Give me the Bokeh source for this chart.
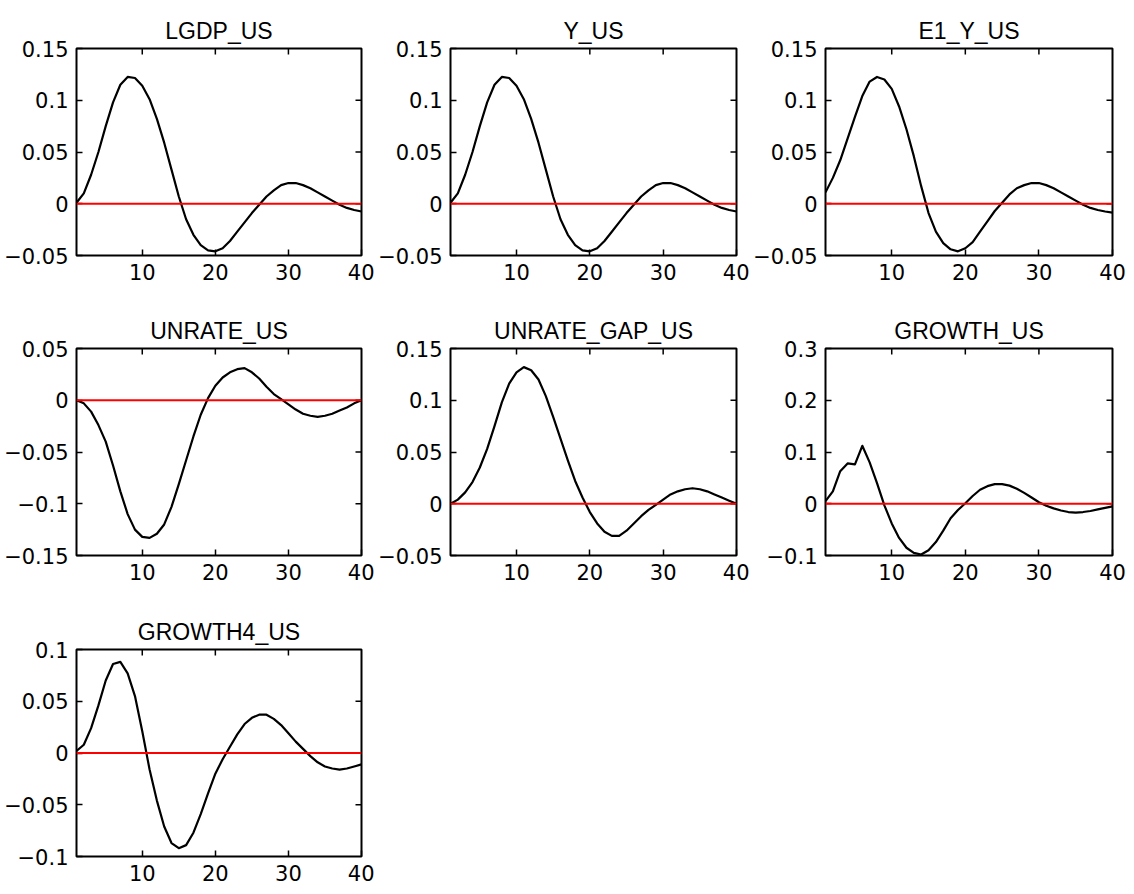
import math

from bokeh.embed import file_html
from bokeh.layouts import column, row
from bokeh.models import FixedTicker, Range1d, Span
from bokeh.plotting import figure
from bokeh.resources import INLINE

# Impulse responses over a 40-quarter horizon
PERIODS = list(range(1, 41))

LGDP_US = [0.001, 0.010, 0.028, 0.050, 0.075, 0.098, 0.115, 0.1225, 0.1215, 0.114,
           0.101, 0.082, 0.059, 0.033, 0.007, -0.015, -0.030, -0.040, -0.045, -0.046,
           -0.043, -0.036, -0.027, -0.018, -0.009, -0.001, 0.007, 0.013, 0.018, 0.020,
           0.020, 0.018, 0.015, 0.011, 0.007, 0.003, -0.001, -0.004, -0.006, -0.0075]

Y_US = [0.001, 0.010, 0.028, 0.050, 0.075, 0.098, 0.115, 0.1225, 0.1215, 0.114,
        0.101, 0.082, 0.059, 0.033, 0.007, -0.015, -0.030, -0.040, -0.045, -0.046,
        -0.043, -0.036, -0.027, -0.018, -0.009, -0.001, 0.007, 0.013, 0.018, 0.020,
        0.020, 0.018, 0.015, 0.011, 0.007, 0.003, -0.001, -0.004, -0.006, -0.0075]

E1_Y_US = [0.011, 0.025, 0.042, 0.063, 0.084, 0.104, 0.118, 0.1225, 0.120, 0.111,
           0.094, 0.072, 0.046, 0.017, -0.009, -0.027, -0.038, -0.044, -0.046, -0.043,
           -0.037, -0.027, -0.017, -0.007, 0.001, 0.009, 0.015, 0.018, 0.020, 0.020,
           0.018, 0.015, 0.011, 0.007, 0.003, -0.001, -0.004, -0.006, -0.0075, -0.0085]

UNRATE_US = [0.000, -0.003, -0.011, -0.024, -0.040, -0.063, -0.088, -0.110, -0.125, -0.132,
             -0.133, -0.129, -0.120, -0.103, -0.081, -0.058, -0.035, -0.014, 0.002, 0.014,
             0.022, 0.027, 0.030, 0.031, 0.027, 0.021, 0.013, 0.006, 0.001, -0.004,
             -0.009, -0.013, -0.015, -0.016, -0.015, -0.013, -0.010, -0.007, -0.003, 0.000]

UNRATE_GAP_US = [0.000, 0.004, 0.011, 0.021, 0.035, 0.053, 0.075, 0.098, 0.116, 0.127,
                 0.132, 0.129, 0.120, 0.104, 0.084, 0.063, 0.042, 0.022, 0.006, -0.008,
                 -0.019, -0.027, -0.031, -0.031, -0.026, -0.019, -0.012, -0.006, -0.001, 0.004,
                 0.009, 0.012, 0.014, 0.015, 0.014, 0.012, 0.009, 0.006, 0.003, 0.000]

GROWTH_US = [0.005, 0.024, 0.063, 0.078, 0.076, 0.112, 0.080, 0.040, -0.003, -0.038,
             -0.066, -0.085, -0.095, -0.098, -0.090, -0.074, -0.052, -0.028, -0.012, 0.001,
             0.015, 0.027, 0.034, 0.038, 0.038, 0.035, 0.029, 0.021, 0.012, 0.003,
             -0.004, -0.009, -0.013, -0.016, -0.017, -0.016, -0.014, -0.011, -0.008, -0.005]

GROWTH4_US = [0.002, 0.008, 0.024, 0.046, 0.070, 0.086, 0.088, 0.077, 0.055, 0.021,
              -0.016, -0.046, -0.071, -0.087, -0.092, -0.089, -0.077, -0.059, -0.039, -0.020,
              -0.006, 0.006, 0.018, 0.028, 0.034, 0.037, 0.037, 0.033, 0.027, 0.019,
              0.011, 0.004, -0.003, -0.009, -0.013, -0.015, -0.016, -0.015, -0.013, -0.011]

X_TICKS = [10, 20, 30, 40]
X_TICK_LABELS = ["10", "20", "30", "40"]

TICKS_OUTPUT = [-0.05, 0, 0.05, 0.1, 0.15]
LABELS_OUTPUT = ["\u22120.05", "0", "0.05", "0.1", "0.15"]
TICKS_UNRATE = [-0.15, -0.1, -0.05, 0, 0.05]
LABELS_UNRATE = ["\u22120.15", "\u22120.1", "\u22120.05", "0", "0.05"]
TICKS_GROWTH = [-0.1, 0, 0.1, 0.2, 0.3]
LABELS_GROWTH = ["\u22120.1", "0", "0.1", "0.2", "0.3"]
TICKS_GROWTH4 = [-0.1, -0.05, 0, 0.05, 0.1]
LABELS_GROWTH4 = ["\u22120.1", "\u22120.05", "0", "0.05", "0.1"]

PANELS = [
    ("LGDP_US", LGDP_US, TICKS_OUTPUT, LABELS_OUTPUT),
    ("Y_US", Y_US, TICKS_OUTPUT, LABELS_OUTPUT),
    ("E1_Y_US", E1_Y_US, TICKS_OUTPUT, LABELS_OUTPUT),
    ("UNRATE_US", UNRATE_US, TICKS_UNRATE, LABELS_UNRATE),
    ("UNRATE_GAP_US", UNRATE_GAP_US, TICKS_OUTPUT, LABELS_OUTPUT),
    ("GROWTH_US", GROWTH_US, TICKS_GROWTH, LABELS_GROWTH),
    ("GROWTH4_US", GROWTH4_US, TICKS_GROWTH4, LABELS_GROWTH4),
]

# grid geometry: per column (left border, frame width, right border), per row (top, frame, bottom)
COLS = [(76, 285, 13), (76, 286, 13), (76, 287, 14)]
ROWS = [(48, 207, 45), (48, 207, 45), (49, 207, 36)]

TICK_FONT = "DejaVu Sans"
TITLE_FONT = "Liberation Sans"


def make_panel(title, values, yticks, ylabels, col, rw):
    lb, fw, rb = COLS[col]
    tb, fh, bb = ROWS[rw]
    x0, x1 = PERIODS[0], PERIODS[-1]
    y0, y1 = yticks[0], yticks[-1]
    p = figure(width=lb + fw + rb, height=tb + fh + bb,
               min_border_left=lb, min_border_right=rb,
               min_border_top=tb, min_border_bottom=bb,
               x_range=Range1d(x0, x1), y_range=Range1d(y0, y1),
               output_backend="svg", toolbar_location=None, tools="")
    p.title.text = title
    p.title.align = "center"
    p.title.text_font = TITLE_FONT
    p.title.text_font_size = "23px"
    p.title.text_font_style = "normal"
    p.title.text_color = "black"
    p.title.standoff = 9

    p.xgrid.visible = False
    p.ygrid.visible = False
    p.background_fill_color = "white"
    p.border_fill_color = "white"
    p.outline_line_color = "black"
    p.outline_line_width = 2
    p.outline_line_alpha = 1

    for ax in (p.xaxis[0], p.yaxis[0]):
        ax.axis_line_color = None
        ax.major_tick_in = 6
        ax.major_tick_out = 0
        ax.major_tick_line_color = "black"
        ax.major_tick_line_width = 1.5
        ax.minor_tick_line_color = None
        ax.major_label_text_font = TICK_FONT
        ax.major_label_text_font_size = "21px"
        ax.major_label_text_color = "black"
        ax.major_label_standoff = 8

    p.xaxis[0].ticker = FixedTicker(ticks=X_TICKS)
    p.xaxis[0].major_label_overrides = dict(zip(X_TICKS, X_TICK_LABELS))
    p.yaxis[0].ticker = FixedTicker(ticks=yticks)
    p.yaxis[0].major_label_overrides = dict(zip(yticks, ylabels))

    # response curve and zero reference line
    p.line(PERIODS, values, line_color="black", line_width=2.2, line_join="round")
    p.add_layout(Span(location=0, dimension="width", line_color="red", line_width=2))

    # tick marks along the top and right edges of the box
    top_ticks = [t for t in X_TICKS if t < x1]
    p.scatter(x=top_ticks, y=[y1] * len(top_ticks), marker="dash", angle=math.pi / 2,
              size=12, line_color="black", line_width=1.5)
    right_ticks = [t for t in yticks if y0 < t < y1]
    p.scatter(x=[x1] * len(right_ticks), y=right_ticks, marker="dash",
              size=12, line_color="black", line_width=1.5)
    return p


figs = []
for i, (title, values, yticks, ylabels) in enumerate(PANELS):
    figs.append(make_panel(title, values, yticks, ylabels, i % 3, i // 3))

layout = column(row(*figs[0:3]), row(*figs[3:6]), row(figs[6]))

open("out.html", "w").write(file_html(layout, INLINE))
